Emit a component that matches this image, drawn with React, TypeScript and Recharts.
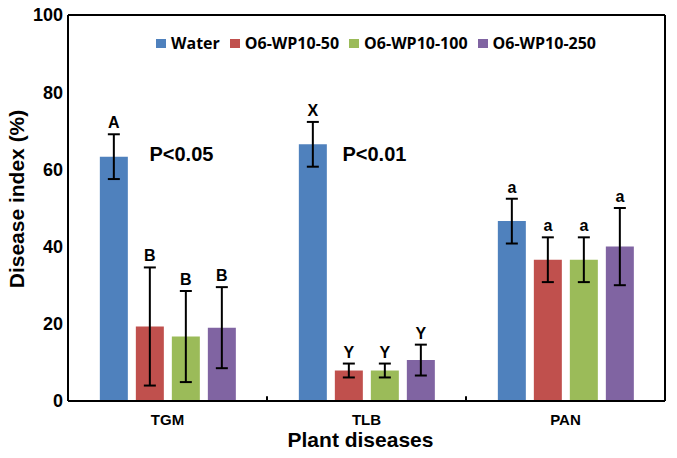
import React from "react";
import {
  BarChart,
  Bar,
  XAxis,
  YAxis,
  ErrorBar,
  Legend,
  LabelList,
  ReferenceLine,
  ReferenceDot,
} from "recharts";

const categories = ["TGM", "TLB", "PAN"];
const water = [63.3, 66.5, 46.6];
const waterErr = [5.8, 5.8, 5.8];
const wp50 = [19.3, 7.9, 36.6];
const wp50Err = [15.3, 1.8, 5.8];
const wp100 = [16.7, 7.9, 36.6];
const wp100Err = [11.8, 1.8, 5.8];
const wp250 = [19.0, 10.6, 40.0];
const wp250Err = [10.5, 4.0, 10.0];

const waterLetters = ["A", "X", "a"];
const wp50Letters = ["B", "Y", "a"];
const wp100Letters = ["B", "Y", "a"];
const wp250Letters = ["B", "Y", "a"];

const yTicks = [0, 20, 40, 60, 80, 100];
const groupBounds = [1, 2];
const pNotes = [
  { x: 0.57, y: 64, text: "P<0.05" },
  { x: 1.54, y: 64, text: "P<0.01" },
];

const data = categories.map((name, i) => ({
  name,
  pos: i + 0.5,
  water: water[i],
  waterErr: waterErr[i],
  wp50: wp50[i],
  wp50Err: wp50Err[i],
  wp100: wp100[i],
  wp100Err: wp100Err[i],
  wp250: wp250[i],
  wp250Err: wp250Err[i],
}));

const FONT = "'Liberation Sans', Arial, sans-serif";

const series = [
  { key: "water", name: "Water", color: "#4F81BD", letters: waterLetters, errs: waterErr },
  { key: "wp50", name: "O6-WP10-50", color: "#C0504D", letters: wp50Letters, errs: wp50Err },
  { key: "wp100", name: "O6-WP10-100", color: "#9BBB59", letters: wp100Letters, errs: wp100Err },
  { key: "wp250", name: "O6-WP10-250", color: "#8064A2", letters: wp250Letters, errs: wp250Err },
];

// letter above the error bar; pixel-per-unit taken from the bar itself
const letterLabel = (letters: string[], errs: number[]) => (props: any) => {
  const { x, y, width, height, value, index } = props;
  const ppu = value ? height / value : 0;
  const top = y - errs[index] * ppu;
  return (
    <text
      x={x + width / 2}
      y={top - 6}
      textAnchor="middle"
      fontSize={16}
      fontWeight={700}
      fontFamily={FONT}
      fill="#000"
    >
      {letters[index]}
    </text>
  );
};

const renderLegend = () => (
  <div style={{ display: "flex", fontFamily: "'Open Sans', sans-serif", fontWeight: 700, fontSize: 16, color: "#000" }}>
    {series.map((s) => (
      <div key={s.key} style={{ display: "flex", alignItems: "center", marginRight: 10 }}>
        <span style={{ display: "inline-block", width: 10, height: 9, background: s.color, marginRight: 5 }} />
        <span>{s.name}</span>
      </div>
    ))}
  </div>
);

export default function App() {
  return (
    <div style={{ position: "absolute", left: 0, top: 0, background: "#fff" }}>
      <BarChart
        width={677}
        height={458}
        data={data}
        margin={{ top: 15, right: 12, bottom: 0, left: 0 }}
        barCategoryGap="16%"
        barGap={8}
      >
        <XAxis
          dataKey="name"
          height={57}
          tickLine={false}
          tickSize={0}
          tickMargin={13}
          axisLine={{ stroke: "#000", strokeWidth: 2 }}
          tick={{ fontSize: 15, fontWeight: 700, fill: "#000", fontFamily: FONT }}
          label={{
            value: "Plant diseases",
            position: "insideBottom",
            offset: 11,
            dx: -6,
            fontSize: 21,
            fontWeight: 700,
            fill: "#000",
            fontFamily: FONT,
          }}
        />
        <XAxis xAxisId="pos" type="number" dataKey="pos" domain={[0, 3]} allowDataOverflow hide />
        <YAxis
          width={68}
          domain={[0, 100]}
          ticks={yTicks}
          tickLine={false}
          tickSize={0}
          tickMargin={5}
          axisLine={{ stroke: "#000", strokeWidth: 2 }}
          tick={{ fontSize: 18, fontWeight: 700, fill: "#000", fontFamily: FONT }}
          label={(props: any) => {
            const vb = props.viewBox;
            const cx = vb.x + 16;
            const cy = vb.y + vb.height / 2 - 9;
            return (
              <text
                x={cx}
                y={cy}
                transform={`rotate(-90 ${cx} ${cy})`}
                textAnchor="middle"
                dominantBaseline="central"
                fontSize={21}
                fontWeight={700}
                fontFamily={FONT}
                fill="#000"
              >
                Disease index (%)
              </text>
            );
          }}
        />
        <Legend
          verticalAlign="middle"
          layout="horizontal"
          align="center"
          content={renderLegend}
          wrapperStyle={{ top: 32, left: 156, width: 500 }}
        />
        {series.map((s) => (
          <Bar key={s.key} dataKey={s.key} name={s.name} fill={s.color} isAnimationActive={false}>
            <ErrorBar dataKey={`${s.key}Err`} width={6} strokeWidth={2} stroke="#000" />
            <LabelList dataKey={s.key} content={letterLabel(s.letters, s.errs)} />
          </Bar>
        ))}
        {/* frame: top and right edges */}
        <ReferenceLine y={100} stroke="#000" strokeWidth={2} />
        <ReferenceLine xAxisId="pos" x={3} stroke="#000" strokeWidth={2} />
        {groupBounds.map((b) => (
          <ReferenceLine
            key={b}
            xAxisId="pos"
            segment={[
              { x: b, y: 0 },
              { x: b, y: 1.2 },
            ]}
            stroke="#000"
            strokeWidth={2}
          />
        ))}
        {pNotes.map((p) => (
          <ReferenceDot
            key={p.text}
            xAxisId="pos"
            x={p.x}
            y={p.y}
            r={0}
            fill="none"
            stroke="none"
            label={{
              value: p.text,
              position: "center",
              fontSize: 20,
              fontWeight: 700,
              fill: "#000",
              fontFamily: FONT,
            }}
          />
        ))}
      </BarChart>
    </div>
  );
}
